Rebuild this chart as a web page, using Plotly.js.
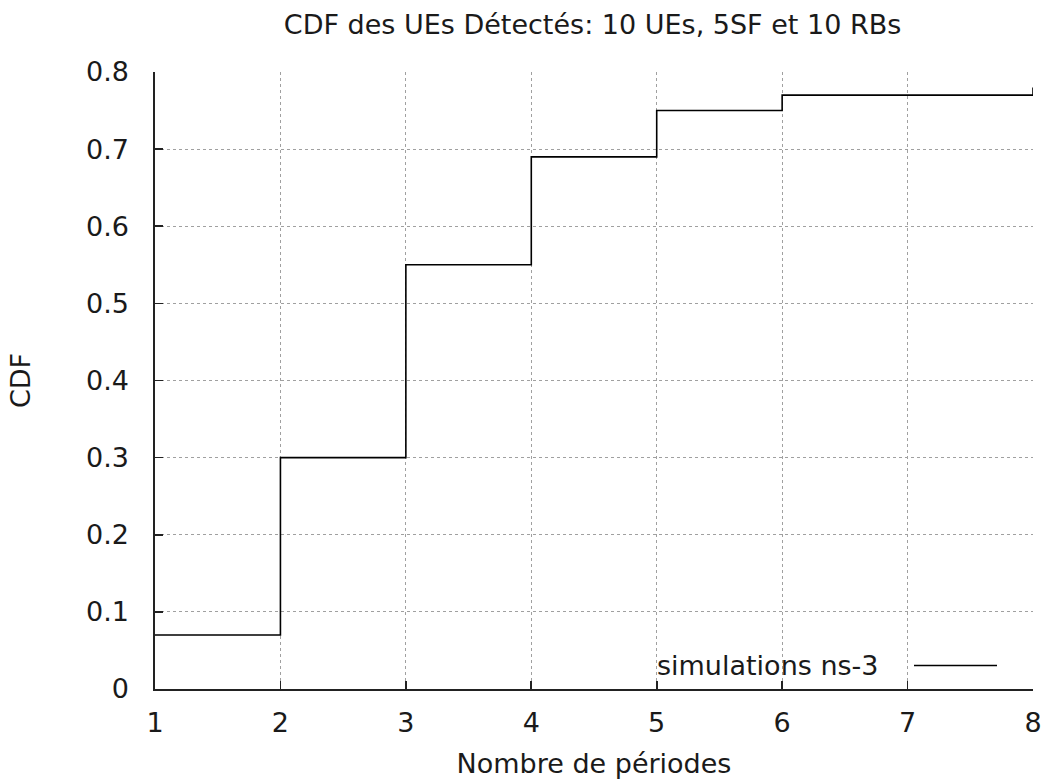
<!DOCTYPE html>
<html>
<head>
<meta charset="utf-8">
<script src="https://cdn.plot.ly/plotly-3.0.1.min.js"></script>
<style>html,body{margin:0;padding:0;background:#fff;}#chart{width:1046px;height:782px;}</style>
</head>
<body>
<div id="chart"></div>
<script>
const periods = [1, 2, 3, 4, 5, 6, 7, 8];
const cdfValues = [0.07, 0.30, 0.55, 0.69, 0.75, 0.77, 0.77, 0.78];
const seriesName = "simulations ns-3";
const xTicks = [1, 2, 3, 4, 5, 6, 7, 8];
const yTicks = [0, 0.1, 0.2, 0.3, 0.4, 0.5, 0.6, 0.7, 0.8];
const yTickLabels = ["0", "0.1", "0.2", "0.3", "0.4", "0.5", "0.6", "0.7", "0.8"];

const font = {family: "DejaVu Sans", size: 27, color: "#1a1a1a"};

const trace = {
  x: periods, y: cdfValues, name: seriesName, type: "scatter", mode: "lines",
  line: {shape: "hv", color: "#000", width: 1.6}, showlegend: false
};

const axisCommon = {
  showline: true, linecolor: "#222", linewidth: 1.6,
  ticks: "inside", ticklen: 8, tickwidth: 1.6, tickcolor: "#222",
  showgrid: true, gridcolor: "#a0a0a0", gridwidth: 1, griddash: "dot",
  zeroline: false, tickfont: font, automargin: false
};

const layout = {
  width: 1046, height: 782,
  margin: {l: 155, r: 13, t: 72, b: 93},
  paper_bgcolor: "#fff", plot_bgcolor: "#fff",
  font: font,
  title: {text: "CDF des UEs Détectés: 10 UEs, 5SF et 10 RBs", font: font, x: 0.5665, xanchor: "center", y: 0.968, yanchor: "middle"},
  xaxis: Object.assign({}, axisCommon, {
    range: [1, 8], tickvals: xTicks, ticktext: xTicks.map(String),
    ticklabelstandoff: 9,
    title: {text: "Nombre de périodes", font: font, standoff: 17}
  }),
  yaxis: Object.assign({}, axisCommon, {
    range: [0, 0.8], tickvals: yTicks, ticktext: yTickLabels,
    ticklabelstandoff: 19,
    title: {text: "CDF", font: font, standoff: 47}
  }),
  annotations: [{
    xref: "paper", yref: "paper", x: 880, y: 0, text: seriesName, showarrow: false, font: font
  }],
  shapes: []
};

const plotW = 1046 - 155 - 13, plotH = 782 - 72 - 93;
const legY = (689 - 665.5) / plotH;
layout.annotations[0].x = (881 - 155) / plotW;
layout.annotations[0].xanchor = "right";
layout.annotations[0].y = legY;
layout.annotations[0].yanchor = "middle";
layout.shapes.push({
  type: "line", xref: "paper", yref: "paper",
  x0: (914 - 155) / plotW, x1: (997 - 155) / plotW, y0: legY, y1: legY,
  line: {color: "#000", width: 1.6}
});

Plotly.newPlot("chart", [trace], layout, {displayModeBar: false, staticPlot: true});
</script>
</body>
</html>
